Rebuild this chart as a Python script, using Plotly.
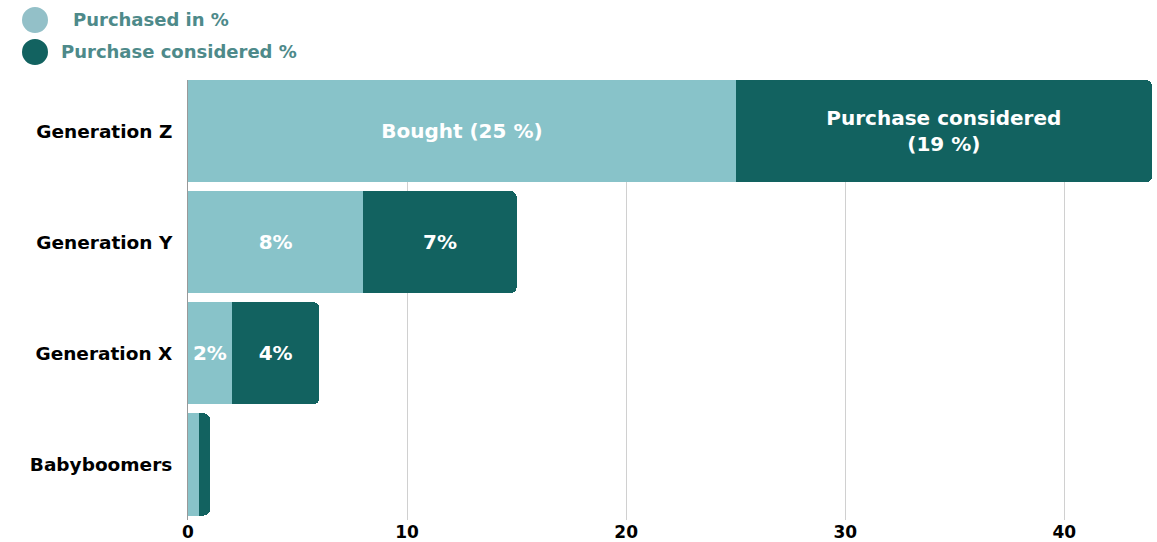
import plotly.graph_objects as go

categories = ["Generation Z", "Generation Y", "Generation X", "Babyboomers"]
purchased = [25, 8, 2, 0.5]
considered = [19, 7, 4, 0.5]
purchased_labels = ["Bought (25 %)", "8%", "2%", ""]
considered_labels = ["Purchase considered<br>(19 %)", "7%", "4%", ""]
series_names = ["Purchased in %", "Purchase considered %"]
x_ticks = [0, 10, 20, 30, 40]

LIGHT = "#88C3C9"
DARK = "#126260"
FONT = "DejaVu Sans"

fig = go.Figure()
for vals, labels, color, name in [(purchased, purchased_labels, LIGHT, series_names[0]),
                                   (considered, considered_labels, DARK, series_names[1])]:
    fig.add_trace(go.Bar(
        y=categories, x=vals, orientation="h", name=name,
        marker=dict(color=color, line=dict(width=0)),
        text=labels, textposition="inside", insidetextanchor="middle",
        textangle=0, constraintext="none",
        textfont=dict(color="white", size=20, family=FONT, weight="bold"),
        showlegend=False, hoverinfo="x+y",
    ))

# plot area geometry (pixels) for placing the custom legend
TOP, BOTTOM, LEFT, RIGHT = 80, 519.6, 188, 1152
H = BOTTOM - TOP
W = RIGHT - LEFT

legend_cy = [20, 52]
legend_x_text = [71, 59]
legend_colors = ["#93C0C8", DARK]
shapes = []
annotations = []
for i, name in enumerate(series_names):
    yp = 1 - (legend_cy[i] - TOP) / H
    shapes.append(dict(
        type="circle", xref="paper", yref="paper", xsizemode="pixel", ysizemode="pixel",
        xanchor=(35 - LEFT) / W, yanchor=yp,
        x0=-13, x1=13, y0=-13, y1=13,
        fillcolor=legend_colors[i], line=dict(width=0),
    ))
    annotations.append(dict(
        xref="paper", yref="paper",
        x=(legend_x_text[i] - LEFT) / W, y=yp,
        text=f"<b>{name}</b>", showarrow=False, xanchor="left", yanchor="middle",
        font=dict(family=FONT, size=18, color="#4E8A8A"),
    ))

fig.update_layout(
    barmode="stack",
    bargap=0.08,
    barcornerradius=6,
    width=1157, height=542,
    margin=dict(l=LEFT, r=1157 - RIGHT, t=TOP, b=542 - BOTTOM, autoexpand=False),
    plot_bgcolor="white", paper_bgcolor="white",
    font=dict(family=FONT, color="black"),
    shapes=shapes,
    annotations=annotations,
    xaxis=dict(
        range=[0, 44], tickvals=x_ticks, showgrid=True, gridcolor="#D0D0D0", gridwidth=1,
        zeroline=False, showline=False, ticks="",
        tickfont=dict(family=FONT, size=17, color="black", weight="bold"),
        ticklabelstandoff=0,
    ),
    yaxis=dict(
        range=[3.5, -0.46], showgrid=False, showline=True, linecolor="#999999", linewidth=1,
        ticks="", ticklabelstandoff=11,
        tickfont=dict(family=FONT, size=18.5, color="black", weight="bold"),
    ),
)

fig.write_html("out.html")
